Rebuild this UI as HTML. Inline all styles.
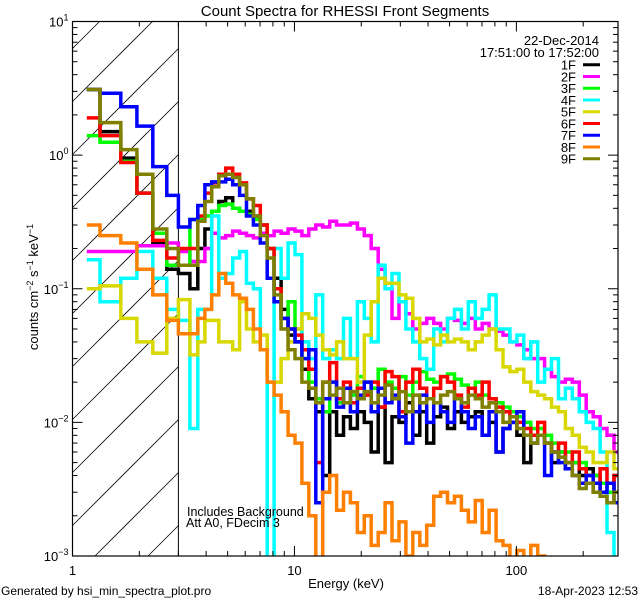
<!DOCTYPE html>
<html><head><meta charset="utf-8"><style>
html,body{margin:0;padding:0;background:#fff;width:640px;height:600px;overflow:hidden;}
svg{display:block;font-family:"Liberation Sans",sans-serif;overflow:hidden;}
</style></head><body>
<svg id="chart" width="640" height="600" viewBox="0 0 640 600" xmlns="http://www.w3.org/2000/svg">
<rect x="0" y="0" width="640" height="600" fill="#fff"/>
<text x="345" y="16" font-size="15" text-anchor="middle">Count Spectra for RHESSI Front Segments</text>
<g id="plot"></g>
<g id="axes"></g>
<g font-size="13" text-anchor="end">
<text x="599" y="45">22-Dec-2014</text>
<text x="599" y="57">17:51:00 to 17:52:00</text>
<g id="legendEntries"></g>
</g>
<text x="187" y="516" font-size="12.5">Includes Background</text>
<text x="186" y="527" font-size="12.5">Att A0, FDecim 3</text>
<text x="346" y="588" font-size="13" text-anchor="middle">Energy (keV)</text>
<text transform="translate(38,287) rotate(-90)" font-size="13" text-anchor="middle">counts cm<tspan dy="-5" font-size="9">−2</tspan><tspan dy="5"> s</tspan><tspan dy="-5" font-size="9">−1</tspan><tspan dy="5"> keV</tspan><tspan dy="-5" font-size="9">−1</tspan></text>
<text x="1" y="595" font-size="12">Generated by hsi_min_spectra_plot.pro</text>
<text x="638" y="595" font-size="12" text-anchor="end">18-Apr-2023 12:53</text>
</svg>
<script>
const energyEdges=[1.16,1.33,1.65,1.95,2.3,2.66,3.0,3.38,3.67,3.95,4.24,4.56,4.90,5.27,5.66,6.08,6.53,7.02,7.54,8.10,8.71,9.36,10.06,10.81,11.61,12.48,13.41,14.41,15.48,16.64,17.88,19.21,20.64,22.18,23.84,25.62,27.53,29.58,31.79,34.16,36.71,39.45,42.39,45.55,48.95,52.60,56.52,60.74,65.27,70.14,75.37,80.99,87.03,93.53,100.5,108.0,116.1,124.7,134.0,144.0,154.8,166.3,178.7,192.1,206.4,221.8,238.3,256.1,275.2,295.8];
const seriesNames=["1F","2F","3F","4F","5F","6F","7F","8F","9F"];
const seriesColors=["#000000","#ff00ff","#00ff00","#00ffff","#d8d800","#ff0000","#0000ff","#ff8000","#808000"];
const s1F=[3.1,1.5,0.95,0.52,0.22,0.14,0.13,0.10,0.2,
0.28,0.38,0.45,0.48,0.40,0.38,0.38,0.35,0.30,0.2,0.12,0.07,0.045,
0.04,0.025,0.015,0.012,0.004,0.012,0.008,0.011,0.009,0.012,
0.01,0.006,0.013,0.005,0.011,0.010,0.014,0.008,0.012,0.007,
0.011,0.013,0.009,0.012,0.010,0.011,0.012,0.008,0.010,0.006,
0.009,0.010,0.008,0.005,0.007,0.008,0.007,0.005,0.006,0.0045,
0.005,0.004,0.0045,0.004,0.0035,0.003,0.004];
const s2F=[0.19,0.19,0.19,0.21,0.21,0.22,0.19,0.16,0.16,
0.2,0.26,0.24,0.25,0.27,0.26,0.25,0.24,0.26,0.25,0.27,0.26,0.28,
0.27,0.25,0.28,0.3,0.29,0.32,0.3,0.3,0.31,0.28,
0.25,0.2,0.14,0.1,0.06,0.08,0.065,0.05,0.055,0.06,
0.055,0.05,0.06,0.058,0.055,0.06,0.05,0.055,0.05,0.048,
0.045,0.04,0.038,0.035,0.03,0.03,0.025,0.022,0.02,0.021,
0.02,0.016,0.012,0.011,0.009,0.008,0.006];
const s3F=[1.4,1.25,0.9,0.52,0.26,0.15,0.15,0.33,0.34,
0.35,0.38,0.42,0.43,0.4,0.38,0.36,0.33,0.3,0.2,0.1,0.06,0.08,
0.05,0.03,0.02,0.015,0.012,0.02,0.014,0.018,0.016,0.022,
0.02,0.018,0.025,0.02,0.018,0.022,0.016,0.02,0.024,0.021,
0.02,0.022,0.023,0.021,0.019,0.018,0.02,0.016,0.015,0.014,
0.013,0.012,0.011,0.01,0.009,0.009,0.008,0.007,0.006,0.006,
0.005,0.005,0.004,0.004,0.0035,0.003,0.003];
const s4F=[0.165,0.08,0.12,0.19,0.12,0.07,0.058,0.009,0.07,
0.07,0.35,0.12,0.13,0.17,0.19,0.11,0.1,0.035,0.0005,0.2,0.12,0.22,
0.18,0.04,0.03,0.09,0.03,0.035,0.03,0.06,0.03,0.08,
0.06,0.04,0.15,0.1,0.13,0.08,0.05,0.04,0.03,0.025,
0.05,0.04,0.06,0.07,0.05,0.08,0.06,0.07,0.09,0.05,
0.05,0.04,0.045,0.03,0.04,0.02,0.025,0.03,0.015,0.018,
0.015,0.012,0.01,0.009,0.006,0.0015,0.0005];
const s5F=[0.1,0.105,0.06,0.04,0.033,0.06,0.083,0.032,0.04,
0.058,0.058,0.04,0.04,0.035,0.08,0.05,0.04,0.045,0.02,0.02,0.03,0.04,
0.05,0.065,0.06,0.045,0.035,0.032,0.04,0.03,0.03,0.02,
0.045,0.08,0.12,0.11,0.11,0.09,0.085,0.06,0.04,0.042,
0.038,0.045,0.04,0.042,0.04,0.035,0.04,0.045,0.05,0.035,
0.026,0.024,0.025,0.02,0.017,0.016,0.015,0.013,0.012,0.009,
0.008,0.0065,0.006,0.005,0.005,0.006,0.0045];
const s6F=[1.9,1.4,0.88,0.52,0.23,0.17,0.2,0.2,0.35,
0.52,0.62,0.72,0.8,0.72,0.62,0.47,0.42,0.3,0.2,0.1,0.06,0.05,
0.045,0.035,0.025,0.005,0.02,0.028,0.015,0.02,0.014,0.018,
0.016,0.02,0.013,0.024,0.022,0.012,0.02,0.025,0.018,0.015,
0.018,0.022,0.02,0.016,0.013,0.018,0.016,0.02,0.015,0.013,
0.012,0.011,0.01,0.009,0.008,0.01,0.007,0.006,0.007,0.005,
0.006,0.0045,0.004,0.003,0.0045,0.0035,0.004];
const s7F=[3.1,2.9,2.3,1.65,0.82,0.5,0.29,0.33,0.42,
0.6,0.63,0.63,0.66,0.6,0.5,0.35,0.3,0.22,0.12,0.08,0.06,0.05,
0.04,0.03,0.035,0.0025,0.015,0.02,0.013,0.018,0.012,0.016,
0.02,0.012,0.018,0.014,0.016,0.011,0.007,0.012,0.016,0.01,
0.014,0.012,0.01,0.015,0.012,0.009,0.011,0.008,0.012,0.006,
0.009,0.01,0.012,0.008,0.007,0.008,0.004,0.006,0.005,0.0045,
0.004,0.0035,0.004,0.0035,0.003,0.0035,0.0025];
const s8F=[0.3,0.25,0.22,0.14,0.09,0.058,0.046,0.046,0.06,
0.07,0.09,0.13,0.11,0.09,0.085,0.07,0.05,0.035,0.02,0.016,0.012,0.008,
0.007,0.0035,0.002,0.0004,0.003,0.004,0.0022,0.003,0.0025,0.0015,
0.002,0.0012,0.0015,0.0025,0.0013,0.0018,0.001,0.0015,0.0012,0.0017,
0.0028,0.003,0.0025,0.0028,0.0022,0.0018,0.0026,0.0015,0.0022,0.0013,
0.0012,0.0009,0.0011,0.0008,0.0012,0.001,0.0008,0.0007,0.0005,0.0004,
0.0004,0.0004,0.0004,0.0004,0.0004,0.0004,0.0004];
const s9F=[3.1,1.75,1.1,0.72,0.28,0.2,0.15,0.15,0.32,
0.45,0.58,0.7,0.72,0.68,0.6,0.47,0.35,0.25,0.17,0.09,0.05,0.035,
0.03,0.02,0.018,0.014,0.02,0.016,0.018,0.014,0.017,0.015,
0.017,0.014,0.016,0.019,0.015,0.017,0.012,0.016,0.014,0.015,
0.014,0.016,0.017,0.015,0.014,0.016,0.015,0.013,0.014,0.012,
0.01,0.011,0.009,0.008,0.007,0.008,0.007,0.006,0.0055,0.005,
0.004,0.0032,0.0035,0.003,0.0028,0.0025,0.003];
const seriesValues=[s1F,s2F,s3F,s4F,s5F,s6F,s7F,s8F,s9F];
const yTickExponents=["1","0","-1","-2","-3"];
const xTickLabels=["1","10","100"];

const NS="http://www.w3.org/2000/svg";
const L=72.5,R=618,T=21.5,B=556;
const X_MIN=1,X_MAX=287,Y_MIN=1e-3,Y_MAX=10;
function xScale(e){return L+(Math.log10(e)-Math.log10(X_MIN))/(Math.log10(X_MAX)-Math.log10(X_MIN))*(R-L);}
function yScale(v){return B-(Math.log10(v)-Math.log10(Y_MIN))/(Math.log10(Y_MAX)-Math.log10(Y_MIN))*(B-T);}
function mk(tag,attrs,parent){const el=document.createElementNS(NS,tag);for(const k in attrs)el.setAttribute(k,attrs[k]);parent.appendChild(el);return el;}

const plot=document.getElementById('plot');
const defs=mk('defs',{},plot);
const cp=mk('clipPath',{id:'plotClip'},defs);
mk('rect',{x:L,y:T,width:R-L,height:B-T},cp);

const hatch=mk('g',{},plot);


const hx0=L,hx1=xScale(3);
for(let k=-3;k<14;k++){
  const y0=T+80+k*53;
  // line: y = y0 - (x - hx0)
  const xa=Math.max(hx0,hx0+(y0-B)), xb=Math.min(hx1,hx0+(y0-T));
  if(xb<=xa)continue;
  mk('line',{x1:xa,y1:y0-(xa-hx0),x2:xb,y2:y0-(xb-hx0),stroke:'#000','stroke-width':0.8},hatch);
}
const vline=mk('line',{x1:xScale(3),y1:T,x2:xScale(3),y2:B,stroke:'#000','stroke-width':1},plot);



const sg=mk('g',{'clip-path':'url(#plotClip)'},plot);
seriesValues.forEach((vals,si)=>{
  let d='';
  for(let i=0;i<vals.length;i++){
    const x0=xScale(energyEdges[i]),x1=Math.min(xScale(energyEdges[i+1]),R+3);
    let y=yScale(vals[i]); if(y>B+4)y=B+4;
    d+=(i===0?'M':'L')+x0.toFixed(1)+','+y.toFixed(1)+'L'+x1.toFixed(1)+','+y.toFixed(1);
  }
  const p=mk('path',{d:d,fill:'none',stroke:seriesColors[si],'stroke-width':3.5,'stroke-linejoin':'miter'},sg);
  
  
});

const axes=document.getElementById('axes');
const frame=mk('rect',{x:L,y:T,width:R-L,height:B-T,fill:'none',stroke:'#000','stroke-width':1.2},axes);


const tg=mk('g',{stroke:'#000','stroke-width':1},axes);


for(let dec=0;dec<3;dec++){
  for(let m=1;m<10;m++){
    const e=m*Math.pow(10,dec); if(e>X_MAX)continue;
    const x=xScale(e),len=(m===1)?10:5;
    mk('line',{x1:x,y1:B,x2:x,y2:B-len},tg);
    mk('line',{x1:x,y1:T,x2:x,y2:T+len},tg);
  }
}
for(let dec=-3;dec<1;dec++){
  for(let m=1;m<10;m++){
    const v=m*Math.pow(10,dec);
    const y=yScale(v),len=(m===1)?10:5;
    mk('line',{x1:L,y1:y,x2:L+len,y2:y},tg);
    mk('line',{x1:R,y1:y,x2:R-len,y2:y},tg);
  }
}
[10].forEach(v=>{const y=yScale(v);mk('line',{x1:L,y1:y,x2:L+10,y2:y},tg);mk('line',{x1:R,y1:y,x2:R-10,y2:y},tg);});

yTickExponents.forEach(ex=>{
  const y=yScale(Math.pow(10,Number(ex)));
  const t=mk('text',{x:L-4,y:y+5,'font-size':13,'text-anchor':'end'},axes);
  
  
  t.appendChild(document.createTextNode('10'));
  const s=mk('tspan',{dy:-6,'font-size':9},t);
  s.textContent=ex.replace('-','−');
});
xTickLabels.forEach(lab=>{
  const x=xScale(Number(lab));
  const t=mk('text',{x:x,y:575,'font-size':13,'text-anchor':'middle'},axes);
  
  
  t.textContent=lab;
});

const le=document.getElementById('legendEntries');
seriesNames.forEach((n,i)=>{
  const y=64.7+i*11.75;
  const g=mk('g',{},le);
  
  
  const t=mk('text',{x:576,y:y+5},g);
  t.textContent=n;
  mk('line',{x1:583,y1:y,x2:600,y2:y,stroke:seriesColors[i],'stroke-width':3},g);
});
</script>
</body></html>
